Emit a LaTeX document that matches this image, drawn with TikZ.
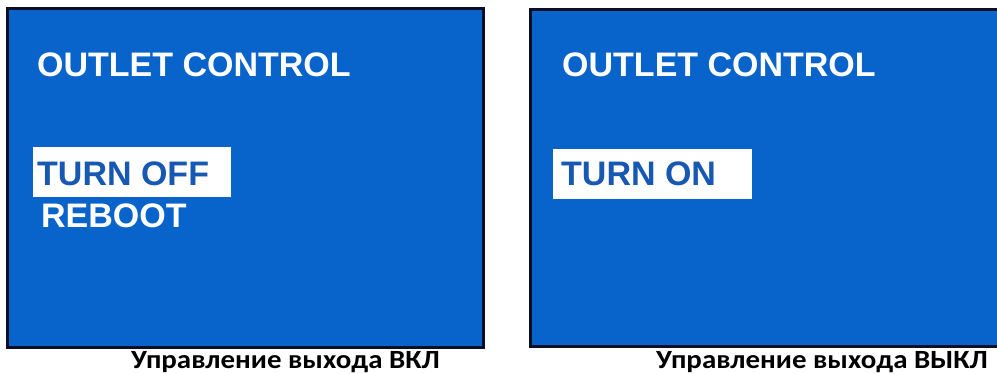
\documentclass[tikz,border=0pt]{standalone}
\usepackage{fontspec}
\setmainfont{Liberation Sans}
\newfontfamily\capfont{Carlito}
\definecolor{scrblue}{RGB}{8,100,202}
\definecolor{txtblue}{RGB}{22,88,178}
\definecolor{edge}{RGB}{10,15,35}
\newcommand{\capwide}[1]{\scalebox{1.1}[1]{#1}}
\begin{document}
\begin{tikzpicture}[x=1pt,y=-1pt,
  screen/.style={draw=edge,line width=3pt,fill=scrblue},
  hlbox/.style={fill=white,draw=none},
  title/.style={anchor=base west,inner sep=0pt,text=white,font=\fontsize{34}{40}\selectfont\bfseries},
  item/.style={anchor=base west,inner sep=0pt,text=white,font=\fontsize{34}{40}\selectfont\bfseries},
  selitem/.style={anchor=base west,inner sep=0pt,text=txtblue,font=\fontsize{34}{40}\selectfont\bfseries},
  caption/.style={anchor=base west,inner sep=0pt,text=black,font=\capfont\fontsize{26.3}{32}\selectfont\bfseries}]
\useasboundingbox (0,0) rectangle (997,374);
\fill[white] (0,0) rectangle (997,374);
% left screen
\draw[screen] (7,9) rectangle (483,348);
\node[title] (t1) at (37,77) {OUTLET CONTROL};
\fill[hlbox] (33,147) rectangle (231,197);
\node[selitem] (off) at (37,186) {TURN OFF};
\node[item] (reboot) at (41,228) {REBOOT};
% right screen (runs off the right edge)
\fill[scrblue] (530,10) rectangle (997,347);
\draw[edge,line width=3pt] (997,10) -- (530,10) -- (530,347) -- (997,347);
\node[title] (t2) at (562,77) {OUTLET CONTROL};
\fill[hlbox] (553,149) rectangle (752,199);
\node[selitem] (on) at (561,186) {TURN ON};
% captions
\node[caption] (c1) at (131,368) {\capwide{Управление выхода ВКЛ}};
\node[caption] (c2) at (656,368) {\capwide{Управление выхода ВЫКЛ}};
\end{tikzpicture}
\end{document}
